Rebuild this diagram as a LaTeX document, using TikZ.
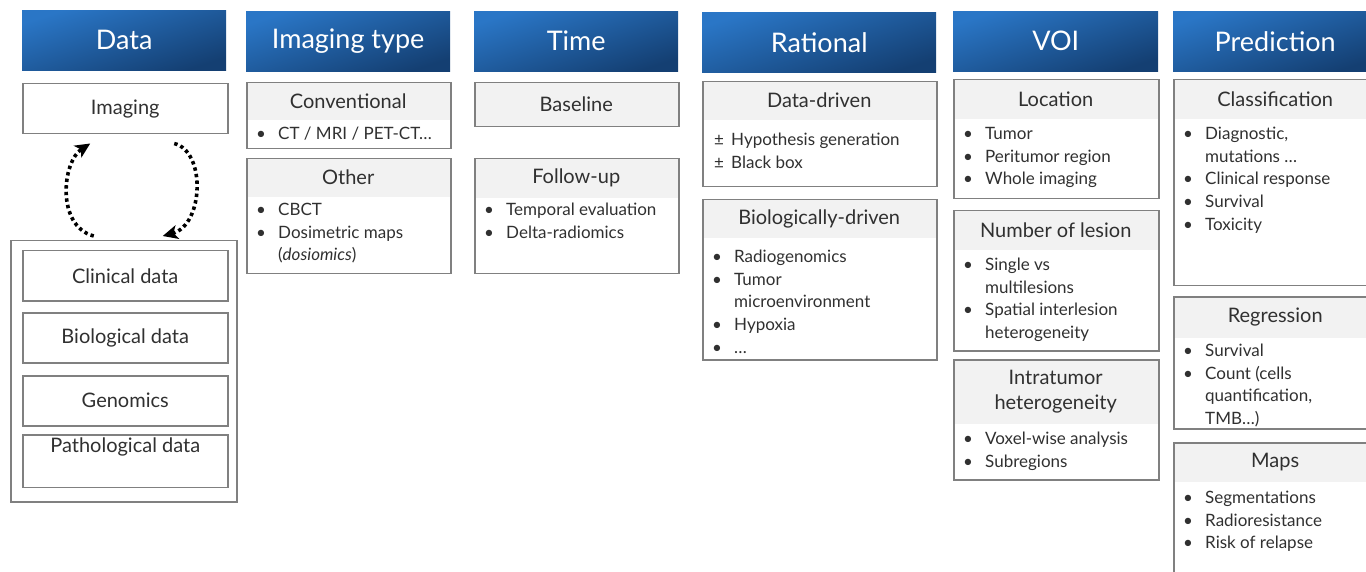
\documentclass[tikz,border=0pt]{standalone}
\usepackage{fontspec}
\setmainfont{Lato}
\usetikzlibrary{positioning,arrows.meta}

\definecolor{hdtop}{HTML}{2A76C6}
\definecolor{hdmid}{HTML}{2064AE}
\definecolor{hdbot}{HTML}{143F72}
\definecolor{bandgray}{HTML}{F2F2F2}
\definecolor{edge}{HTML}{808080}
\definecolor{ink}{HTML}{303030}

% bullet, continuation line and plus-minus line openers
\newcommand{\bul}{\strut\makebox[22pt][l]{\textbullet}}
\newcommand{\cnt}{\strut\hspace*{22pt}}
\newcommand{\plm}{\strut\makebox[17pt][l]{±}}

\begin{document}
\begin{tikzpicture}[x=1pt, y=-1pt,
  head/.style={rectangle, anchor=north west, minimum height=60pt, minimum width=#1, top color=hdtop, middle color=hdmid, bottom color=hdbot, shading angle=18, text=white, font=\fontsize{27}{32}\selectfont},
  head/.default=204pt,
  titleband/.style={rectangle, anchor=north west, fill=bandgray, minimum width=#1, inner sep=0pt, align=center, text=ink, font=\fontsize{20}{25}\selectfont},
  card/.style={rectangle, anchor=north west, draw=edge, line width=1.5pt, minimum width=#1, inner sep=0pt},
  items/.style={anchor=north west, align=left, inner sep=0pt, text=ink, font=\fontsize{17}{22.7}\selectfont},
  plainbox/.style={rectangle, anchor=north west, draw=edge, line width=1.5pt, minimum width=205pt, minimum height=50pt, align=center, text=ink, font=\fontsize{20}{24}\selectfont},
  loopflow/.style={line width=3.6pt, dash pattern=on 3.4pt off 3.2pt, -{Stealth[length=15pt, width=14pt, inset=4pt]}}
]
  \useasboundingbox (0,0) rectangle (1366,572);
  \clip (0,0) rectangle (1366,572);

  % column headers
  \node[head] (data) at (22,10) {Data};
  \node[head] (imtype) at (246,11) {Imaging type};
  \node[head] (time) at (474,11) {Time};
  \node[head=234pt] (rational) at (702,12) {Rational};
  \node[head=205pt] (voi) at (953,11) {VOI};
  \node[head] (pred) at (1173,11) {Prediction};

  % data sources
  \node[plainbox] (imaging) at (22,83) {Imaging};
  \node[card=226pt, minimum height=261pt] (grp) at (10,240) {};
  \node[plainbox] (clinical) at (22,250) {Clinical data};
  \node[plainbox] (biological) at (22,312) {Biological data};
  \node[plainbox] (genomics) at (22,375) {Genomics};
  \node[plainbox] (patho) at (22,434) {Pathological data\\\strut};

  \draw[loopflow] ([shift={(-30,-4)}]grp.north) .. controls +(-38,-10) and +(-28,18) .. ([shift={(-35,9)}]imaging.south);
  \draw[loopflow] ([shift={(49,9)}]imaging.south) .. controls +(32,8) and +(41,-11) .. ([shift={(39,-4)}]grp.north);

  % imaging type
  \node[titleband=204pt, minimum height=38pt] (conv-t) at (246,82) {Conventional};
  \node[card=204pt, minimum height=66pt] (conv) at (conv-t.north west) {};
  \node[items, below right=3pt and 10pt of conv-t.south west] (conv-l) {\bul CT / MRI / PET-CT…};

  \node[titleband=204pt, minimum height=39pt] (other-t) at (246,158) {Other};
  \node[card=204pt, minimum height=115pt] (other) at (other-t.north west) {};
  \node[items, below right=2pt and 10pt of other-t.south west] (other-l) {\bul CBCT\\ \bul Dosimetric maps\\ \cnt(\textit{dosiomics})};

  % time
  \node[titleband=204pt, minimum height=44pt] (base-t) at (474,82) {Baseline};
  \node[card=204pt, minimum height=44pt] (base) at (base-t.north west) {};

  \node[titleband=204pt, minimum height=40pt] (follow-t) at (474,158) {Follow-up};
  \node[card=204pt, minimum height=115pt] (follow) at (follow-t.north west) {};
  \node[items, below right=1pt and 10pt of follow-t.south west] (follow-l) {\bul Temporal evaluation\\ \bul Delta-radiomics};

  % rational
  \node[titleband=234pt, minimum height=39pt] (ddrv-t) at (702,81) {Data-driven};
  \node[card=234pt, minimum height=105pt] (ddrv) at (ddrv-t.north west) {};
  \node[items, below right=9pt and 12pt of ddrv-t.south west] (ddrv-l) {\plm Hypothesis generation\\ \plm Black box};

  \node[titleband=234pt, minimum height=39pt] (bdrv-t) at (702,199) {Biologically-driven};
  \node[card=234pt, minimum height=160pt] (bdrv) at (bdrv-t.north west) {};
  \node[items, below right=8pt and 10pt of bdrv-t.south west] (bdrv-l) {\bul Radiogenomics\\ \bul Tumor\\ \cnt microenvironment\\ \bul Hypoxia\\ \bul …};

  % volume of interest
  \node[titleband=205pt, minimum height=40pt] (loc-t) at (953,79) {Location};
  \node[card=205pt, minimum height=119pt] (loc) at (loc-t.north west) {};
  \node[items, below right=4pt and 10pt of loc-t.south west] (loc-l) {\bul Tumor\\ \bul Peritumor region\\ \bul Whole imaging};

  \node[titleband=205pt, minimum height=40pt] (nles-t) at (953,210) {Number of lesion};
  \node[card=205pt, minimum height=140pt] (nles) at (nles-t.north west) {};
  \node[items, below right=4pt and 10pt of nles-t.south west] (nles-l) {\bul Single vs\\ \cnt multilesions\\ \bul Spatial interlesion\\ \cnt heterogeneity};

  \node[titleband=205pt, minimum height=65pt] (intra-t) at (953,359) {Intratumor\\heterogeneity};
  \node[card=205pt, minimum height=120pt] (intra) at (intra-t.north west) {};
  \node[items, below right=4pt and 10pt of intra-t.south west] (intra-l) {\bul Voxel-wise analysis\\ \bul Subregions};

  % prediction
  \node[titleband=204pt, minimum height=40pt] (clf-t) at (1173,79) {Classification};
  \node[card=204pt, minimum height=206pt] (clf) at (clf-t.north west) {};
  \node[items, below right=4pt and 10pt of clf-t.south west] (clf-l) {\bul Diagnostic,\\ \cnt mutations …\\ \bul Clinical response\\ \bul Survival\\ \bul Toxicity};

  \node[titleband=204pt, minimum height=42pt] (regr-t) at (1173,296) {Regression};
  \node[card=204pt, minimum height=132pt] (regr) at (regr-t.north west) {};
  \node[items, below right=2pt and 10pt of regr-t.south west] (regr-l) {\bul Survival\\ \bul Count (cells\\ \cnt quantification,\\ \cnt TMB…)};

  \node[titleband=204pt, minimum height=40pt] (maps-t) at (1173,442) {Maps};
  \node[card=204pt, minimum height=140pt] (maps) at (maps-t.north west) {};
  \node[items, below right=5pt and 10pt of maps-t.south west] (maps-l) {\bul Segmentations\\ \bul Radioresistance\\ \bul Risk of relapse};
\end{tikzpicture}
\end{document}
